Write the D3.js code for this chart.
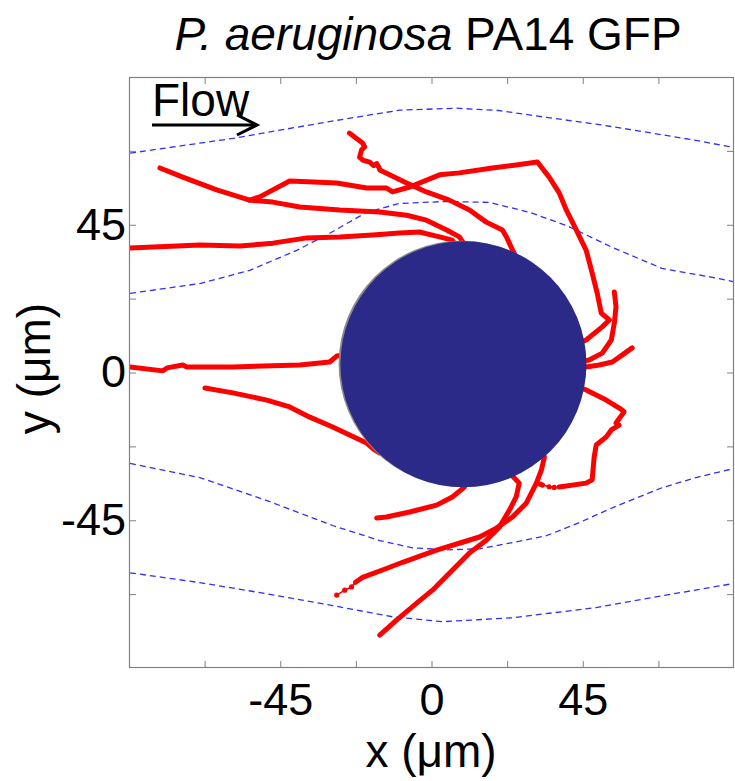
<!DOCTYPE html>
<html>
<head>
<meta charset="utf-8">
<script src="https://cdn.jsdelivr.net/npm/d3@7"></script>
<style>
  html, body { margin: 0; padding: 0; background: #fff; }
  svg { display: block; font-family: "Liberation Sans", Arial, Helvetica, sans-serif; }
</style>
</head>
<body>
<div id="chart"></div>
<script>
// Axis settings (µm)
const xDomain = [-90, 90];
const yDomain = [-90, 90];
const tickValues = [-67.5, -45, -22.5, 0, 22.5, 45, 67.5];
const labeledTicks = [-45, 0, 45];

// Pillar (obstacle) position and radius in µm
const pillar = { cx: 9.5, cy: 2.5, r: 36.6 };

// Flow streamlines around the pillar, [x, y] in µm
const streamTop = [[-89.7,66.8],[-59.1,71.3],[-30,76.5],[-9.5,79.9],[7.4,80.5],[20,79.8],[34.2,77.7],[50,75.5],[63.9,73.2],[78,70.8],[89.7,68.6]];
const streamUpper = [[-89.7,24.1],[-68.9,27.1],[-54.1,31.1],[-40.1,37.2],[-30.3,42.4],[-19.3,48.8],[-9.5,51.5],[4.5,52.1],[17.2,51.8],[29.1,48.8],[40.1,44.8],[53.8,38.1],[68.6,31.7],[83.5,29.0],[89.7,27.7]];
const streamLower = [[-89.7,-27.7],[-68.9,-32.0],[-49.0,-39.0],[-29.4,-46.6],[-15.4,-51.2],[-5.6,-53.4],[4.5,-54.0],[14.3,-53.7],[24.1,-51.8],[34.2,-49.7],[44.0,-45.7],[53.8,-41.2],[68.6,-35.1],[78.7,-32.0],[89.7,-29.3]];
const streamBottom = [[-89.7,-61.0],[-68.9,-64.0],[-49.0,-67.4],[-29.4,-71.0],[-11.6,-74.4],[3.3,-75.9],[24.1,-74.7],[49.0,-71.6],[68.6,-68.0],[89.7,-64.3]];

// Bacterial trajectories, [x, y] in µm
const track1 = [[-80.8,62.3],[-74.0,59.5],[-63.9,55.6],[-54.1,52.5],[-47.2,51.9],[-39.2,50.4],[-27.3,49.5],[-15.4,48.9],[-7.4,47.9],[-1.5,46.4],[4.5,43.4],[8.3,41.3],[9.5,39.5]];
const track2 = [[-54.1,52.5],[-51.1,53.5],[-42.2,58.3],[-28.2,57.7],[-19.3,56.2],[-13.4,56.2],[-11.6,55.0],[-6.5,56.5],[2.4,60.2],[8.3,60.8],[18.1,62.3],[25.2,63.2],[31.5,64.1],[35.0,59.5],[38.0,54.7],[40.1,49.5],[43.1,43.4],[46.0,37.3],[47.8,30.3],[49.3,24.2],[50.5,18.1],[52.9,16.0],[50.8,13.9],[46.0,9.9],[44.5,9.2]];
const track3 = [[-24.4,72.9],[-22.9,71.7],[-20.5,69.9],[-19.9,68.7],[-20.8,67.8],[-21.4,65.6],[-20.5,64.7],[-18.4,64.1],[-17.2,63.0],[-16.3,63.6],[-15.6,62.4],[-15.4,61.7],[-7.4,57.7],[-1.5,55.0],[5.3,52.5],[11.3,49.5],[16.3,45.8],[21.1,43.4],[22.3,41.3],[24.1,37.3],[25.0,35.5]];
const track4 = [[-89.7,37.9],[-68.9,38.8],[-57.0,38.5],[-47.2,39.4],[-37.1,41.0],[-27.3,41.3],[-17.5,41.9],[-9.5,42.5],[-3.6,42.8],[2.4,41.3],[6.2,40.3],[7.0,39.0]];
const track5 = [[-89.7,1.7],[-79.9,0.5],[-78.7,1.4],[-74.0,2.3],[-72.8,1.7],[-59.1,1.7],[-39.2,2.3],[-30.3,3.2],[-28.2,5.0],[-26.5,5.3]];
const track6 = [[-67.4,-4.7],[-59.1,-6.2],[-49.0,-8.4],[-42.2,-10.5],[-36.2,-13.6],[-29.4,-16.6],[-19.3,-21.5],[-16.9,-23.6],[-15.5,-24.5]];
const track7 = [[54.4,24.5],[54.9,20.0],[54.4,15.1],[53.5,9.9],[50.8,5.9],[46.9,3.8],[45.5,3.5]];
const track8 = [[59.7,7.5],[56.7,5.3],[53.8,3.2],[49.9,2.3],[45.5,1.6]];
const track9 = [[45.0,-5.0],[46.0,-5.3],[52.0,-8.4],[56.7,-11.4],[57.3,-12.0],[54.9,-15.4],[55.8,-16.0],[53.5,-17.5],[52.0,-19.6],[49.0,-22.1],[48.4,-25.7],[47.8,-32.7],[46.0,-33.7],[38.0,-34.9]];
const track9Tail = [[38.0,-34.9],[36.5,-35.0],[35.0,-34.8],[33.0,-34.3],[32.4,-34.0]];
const track10 = [[33.0,-24.5],[33.6,-25.7],[32.7,-29.7],[31.2,-33.7],[28.2,-39.8],[24.1,-44.0],[19.3,-47.4],[14.3,-50.1],[9.2,-51.7],[1.5,-54.1],[-8.6,-57.8],[-13.4,-59.7],[-20.5,-62.4],[-22.6,-63.9]];
const track10Tail = [[-22.6,-63.9],[-23.8,-65.3],[-25.8,-66.3],[-28.2,-67.8]];
const track11 = [[23.5,-30.5],[24.1,-31.5],[26.1,-33.7],[25.2,-37.9],[23.2,-41.9],[20.2,-47.1],[16.3,-51.1],[11.3,-55.0],[6.2,-60.2],[0.3,-66.3],[-4.5,-70.3],[-10.4,-75.4],[-15.4,-80.0]];
const track12 = [[9.8,-33.5],[9.8,-34.9],[6.2,-37.9],[1.5,-40.4],[-6.5,-42.5],[-13.4,-44.0],[-16.3,-44.3]];

const streamlines = [streamTop, streamUpper, streamLower, streamBottom];
const tracks = [track1, track2, track3, track4, track5, track6, track7, track8, track9, track10, track11, track12];
const sparseTails = [track9Tail, track10Tail];

const W = 735, H = 781;
const plot = { left: 129, right: 734, top: 77, bottom: 668 };
const FONT = 46;
const TICK_FONT = 45;

const svg = d3.select("#chart").append("svg")
  .attr("width", W).attr("height", H);

const x = d3.scaleLinear().domain(xDomain).range([plot.left, plot.right]);
const y = d3.scaleLinear().domain(yDomain).range([plot.bottom, plot.top]);

const line = d3.line().x(d => x(d[0])).y(d => y(d[1])).curve(d3.curveLinear);

const clipId = "plot-clip";
svg.append("defs").append("clipPath").attr("id", clipId)
  .append("rect")
  .attr("x", plot.left).attr("y", plot.top)
  .attr("width", plot.right - plot.left).attr("height", plot.bottom - plot.top);

const inner = svg.append("g").attr("clip-path", `url(#${clipId})`);

// streamlines
inner.append("g").selectAll("path").data(streamlines).join("path")
  .attr("d", line)
  .attr("fill", "none")
  .attr("stroke", "#2f2fff")
  .attr("stroke-width", 1.3)
  .attr("stroke-dasharray", "6,4");

// trajectories
inner.append("g").selectAll("path").data(tracks).join("path")
  .attr("d", line)
  .attr("fill", "none")
  .attr("stroke", "#ff0000")
  .attr("stroke-width", 5)
  .attr("stroke-linejoin", "round")
  .attr("stroke-linecap", "round");

// sparse-sampled ends of trajectories: thin joins with point markers
const tails = inner.append("g");
tails.selectAll("path").data(sparseTails).join("path")
  .attr("d", line)
  .attr("fill", "none")
  .attr("stroke", "#ff0000")
  .attr("stroke-width", 1.6);
tails.selectAll("circle").data(sparseTails.flatMap(t => t.slice(1))).join("circle")
  .attr("cx", d => x(d[0])).attr("cy", d => y(d[1]))
  .attr("r", 2.6).attr("fill", "#ff0000");

// pillar with a grey rim on its upper-left side
const pr = x(pillar.cx + pillar.r) - x(pillar.cx);
inner.append("circle")
  .attr("cx", x(pillar.cx) - 1.8).attr("cy", y(pillar.cy) - 0.6)
  .attr("r", pr).attr("fill", "#8a8a8a");
inner.append("circle")
  .attr("cx", x(pillar.cx)).attr("cy", y(pillar.cy))
  .attr("r", pr).attr("fill", "#2b2a88");

// axes box and inward ticks
const axisColor = "#808080";
const tickLen = 7;
const fmt = v => labeledTicks.includes(v) ? String(v) : "";

function styleAxis(g) {
  g.select(".domain").remove();
  g.selectAll(".tick line").attr("stroke", axisColor).attr("stroke-width", 1);
  g.selectAll(".tick text").attr("font-size", TICK_FONT).attr("fill", "#000")
    .attr("font-family", "\"Liberation Sans\", Arial, sans-serif");
}

svg.append("g").attr("transform", `translate(0,${plot.bottom})`)
  .call(d3.axisBottom(x).tickValues(tickValues).tickFormat(fmt).tickSizeInner(-tickLen).tickSizeOuter(0).tickPadding(15))
  .call(styleAxis)
  .call(g => g.selectAll(".tick text").attr("dy", "0.71em"));

svg.append("g").attr("transform", `translate(0,${plot.top})`)
  .call(d3.axisTop(x).tickValues(tickValues).tickFormat("").tickSizeInner(-tickLen).tickSizeOuter(0))
  .call(styleAxis);

svg.append("g").attr("transform", `translate(${plot.left},0)`)
  .call(d3.axisLeft(y).tickValues(tickValues).tickFormat(fmt).tickSizeInner(-tickLen).tickSizeOuter(0).tickPadding(3))
  .call(styleAxis);

svg.append("g").attr("transform", `translate(${plot.right},0)`)
  .call(d3.axisRight(y).tickValues(tickValues).tickFormat("").tickSizeInner(-tickLen).tickSizeOuter(0))
  .call(styleAxis);

svg.append("rect")
  .attr("x", plot.left + 0.5).attr("y", plot.top + 0.5)
  .attr("width", plot.right - plot.left - 1).attr("height", plot.bottom - plot.top - 1)
  .attr("fill", "none").attr("stroke", axisColor).attr("stroke-width", 1.2);

// title
const title = svg.append("text")
  .attr("x", 428).attr("y", 50)
  .attr("text-anchor", "middle")
  .attr("font-size", FONT);
title.append("tspan").attr("font-style", "italic").text("P. aeruginosa");
title.append("tspan").text(" PA14 GFP");

// axis titles
svg.append("text")
  .attr("x", (plot.left + plot.right) / 2 - 0.5).attr("y", 767)
  .attr("text-anchor", "middle").attr("font-size", FONT)
  .text("x (μm)");

svg.append("text")
  .attr("transform", `translate(50,${(plot.top + plot.bottom) / 2 - 4}) rotate(-90)`)
  .attr("text-anchor", "middle").attr("font-size", FONT)
  .text("y (μm)");

// flow direction marker
svg.append("text")
  .attr("x", 152).attr("y", 116)
  .attr("font-size", FONT)
  .text("Flow");
const ay = 125;
svg.append("line")
  .attr("x1", 152).attr("x2", 256).attr("y1", ay).attr("y2", ay)
  .attr("stroke", "#000").attr("stroke-width", 3);
svg.append("path")
  .attr("d", `M237,${ay - 10} L257,${ay} L237,${ay + 10}`)
  .attr("fill", "none").attr("stroke", "#000").attr("stroke-width", 3);
</script>
</body>
</html>
